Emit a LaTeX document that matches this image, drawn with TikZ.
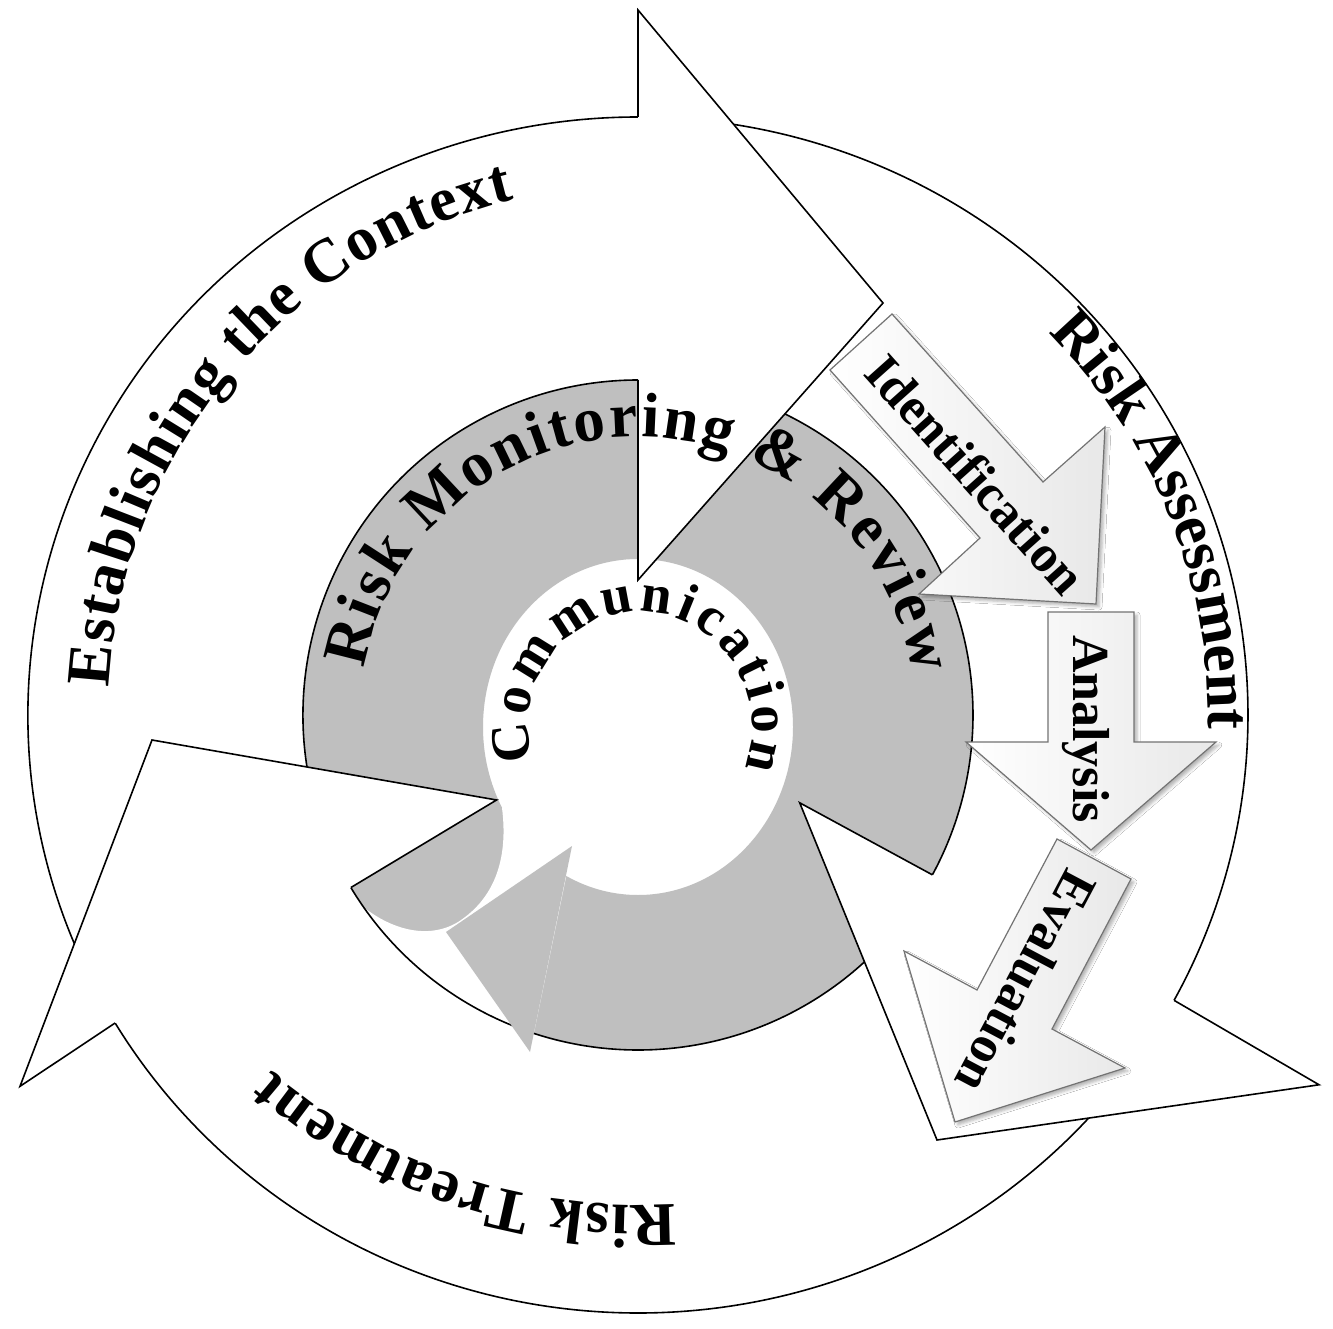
\documentclass[tikz,border=0pt]{standalone}
\usepackage{fontspec}
\setmainfont{Liberation Serif}
\usetikzlibrary{decorations.text,shadows.blur}
\definecolor{ringgray}{RGB}{191,191,191}
\definecolor{stepedge}{RGB}{115,115,115}
\newcommand\OuterTxt{\fontsize{62}{62}\selectfont\bfseries}
\newcommand\RingTxt{\fontsize{63}{63}\selectfont\bfseries}
\newcommand\CommTxt{\fontsize{55}{55}\selectfont\bfseries}
\newcommand\StepTxt{\fontsize{52}{52}\selectfont\bfseries}
\begin{document}
\begin{tikzpicture}[x=1pt,y=-1pt,
  outline/.style={draw=black,line width=1.6pt,line join=miter},
  steparrow/.style={draw=stepedge,line width=1.2pt,left color=white,right color=black!9,
    blur shadow={shadow xshift=3pt,shadow yshift=-3pt,shadow blur radius=3pt,shadow opacity=30}},
  steplabel/.style={font=\StepTxt,inner sep=0pt}
]
\useasboundingbox (0,0) rectangle (1333,1329);
\fill[white] (0,0) rectangle (1333,1329);

% grey monitoring ring
\fill[ringgray,even odd rule] (638,715) circle[radius=335] (638,727) ellipse[x radius=155,y radius=168];
% gap between its tail and its head
\fill[white] (515,790) -- (502,808) .. controls (508,855) and (497,897) .. (458,922)
  .. controls (425,942) and (380,928) .. (345,890) -- (320,905) -- (380,1000) -- (470,1060)
  -- (527,1072) -- (530,1052) -- (572,848) -- (560,800) -- cycle;

\begin{scope}[shift={(638,715)}]
  % bands of the three outer arrows
  \foreach \a/\b in {154/270, 275/388.5, 35/149} {
    \fill[white] (\a:610 and 598) arc[start angle=\a,end angle=\b,x radius=610,y radius=598]
      -- (\b:335) arc[start angle=\b,end angle=\a,radius=335] -- cycle;
    \draw[outline] (\a:610 and 598) arc[start angle=\a,end angle=\b,x radius=610,y radius=598];
    \draw[outline] (\a:335) arc[start angle=\a,end angle=\b,radius=335];
  }
  % heads
  \fill[white] (270:598) -- (270:705) -- (245,-412) -- (270:135) -- (270:335) -- cycle;
  \draw[outline] (270:598) -- (270:705) -- (245,-412) -- (270:135) -- (270:335);
  \fill[white] (28.5:610 and 598) -- (28.5:775) -- (299,425) -- (28.5:184) -- (28.5:335) -- cycle;
  \draw[outline] (28.5:610 and 598) -- (28.5:775) -- (299,425) -- (28.5:184) -- (28.5:335);
  \fill[white] (149:610 and 598) -- (149:721) -- (-486,25) -- (149:165) -- (149:335) -- cycle;
  \draw[outline] (149:610 and 598) -- (149:721) -- (-486,25) -- (149:165) -- (149:335);
\end{scope}

% head of the grey arrow
\fill[ringgray] (572,846) -- (446,932) -- (530,1052) -- cycle;

% step arrows
\draw[steparrow] (892,314) -- (1043,482) -- (1105,427) -- (1096,604) -- (919,594) -- (980,538) -- (830,370) -- cycle;
\draw[steparrow] (1048,612) -- (1134,612) -- (1134,742) -- (1216,742) -- (1091,850) -- (966,742) -- (1048,742) -- cycle;
\draw[steparrow] (1057,839) -- (1131,879) -- (1052,1029) -- (1125,1068) -- (955,1122) -- (904,951) -- (977,990) -- cycle;

\node[steplabel,rotate=-48.2] (ident) at (976,474) {Identification};
\node[steplabel,rotate=-90] (anal) at (1086,729) {Analysis};
\node[steplabel,rotate=-117.9] (evalu) at (1026,982) {Evaluation};

% curved labels
\begin{scope}[shift={(638,715)}]
  \path[decorate,decoration={text along path,text align={fit to path},
    text={|\OuterTxt|Establishing the Context}}]
    (183:530) arc[start angle=183,end angle=256.5,radius=530];
  \path[decorate,decoration={text along path,text align={fit to path},
    text={|\OuterTxt|Risk Assessment}}]
    (316:570 and 550) arc[start angle=316,end angle=361.5,x radius=570,y radius=550];
  \path[decorate,decoration={text along path,text align={fit to path},
    text={|\OuterTxt|Risk Treatment}}]
    (86:532 and 490) arc[start angle=86,end angle=133.5,x radius=532,y radius=490];
  \path[decorate,decoration={text along path,text align={fit to path},
    text={|\RingTxt|Risk Monitoring {\&} Review}}]
    (189.6:278) arc[start angle=189.6,end angle=351.5,radius=278];
\end{scope}
\begin{scope}[shift={(640,727)}]
  \path[decorate,decoration={text along path,text align={fit to path},
    text={|\CommTxt|Communication}}]
    (163:112 and 115) arc[start angle=163,end angle=381,x radius=112,y radius=115];
\end{scope}
\end{tikzpicture}
\end{document}
